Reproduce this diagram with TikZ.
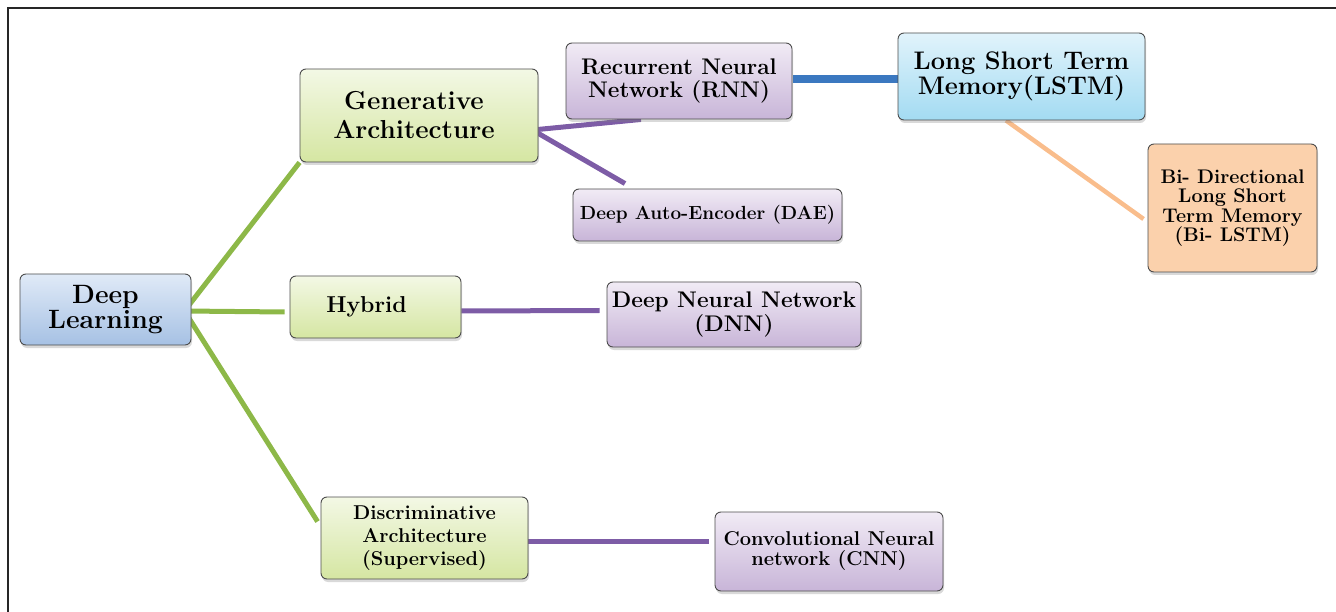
\documentclass[tikz,border=0pt]{standalone}
\usetikzlibrary{shadows,calc,backgrounds}
\definecolor{lgreen}{HTML}{8DB848}
\definecolor{lpurple}{HTML}{7D5CA6}
\definecolor{lblue}{HTML}{3B78C0}
\definecolor{lorange}{HTML}{F9BD8C}
\definecolor{bltop}{HTML}{E0EAF7}
\definecolor{blbot}{HTML}{A6C1E4}
\definecolor{grtop}{HTML}{F3F8E5}
\definecolor{grbot}{HTML}{D5E6A2}
\definecolor{putop}{HTML}{F1EBF5}
\definecolor{pubot}{HTML}{C8B5D8}
\definecolor{cytop}{HTML}{E1F3FB}
\definecolor{cybot}{HTML}{A3DBF2}
\definecolor{peach}{HTML}{FBD1AC}
\begin{document}
\begin{tikzpicture}[x=1pt,y=-1pt,
  box/.style={draw=black!70, line width=0.9pt, rounded corners=6pt, align=center,
    inner sep=0pt, font=\bfseries,
    drop shadow={shadow xshift=1pt,shadow yshift=-3pt,opacity=0.3}},
  bluebox/.style={box, top color=bltop, bottom color=blbot},
  greenbox/.style={box, top color=grtop, bottom color=grbot},
  purplebox/.style={box, top color=putop, bottom color=pubot},
  cyanbox/.style={box, top color=cytop, bottom color=cybot},
  peachbox/.style={box, fill=peach},
  gline/.style={draw=lgreen, line width=5pt},
  pline/.style={draw=lpurple, line width=5pt},
  bline/.style={draw=lblue, line width=8pt},
  oline/.style={draw=lorange, line width=4.5pt},
  fs/.style 2 args={font=\fontsize{#1}{#2}\selectfont\bfseries}
]
\useasboundingbox (0,0) rectangle (1336,612);
\draw[line width=1.6pt, black!85] (1336,8) -- (8,8) -- (8,612);

\node[bluebox, fs={26.5}{22}, minimum width=171pt, minimum height=71pt] (dl) at (105.5,309.5) {Deep\\Learning};
\node[greenbox, fs={26}{29}, minimum width=238pt, minimum height=93pt] (gen) at (419,115.5) {\hspace*{-10pt}Generative\\\hspace*{-10pt}Architecture};
\node[greenbox, fs={23}{24}, minimum width=171pt, minimum height=62pt] (hyb) at (375.5,307) {Hybrid\hspace*{18pt}};
\node[greenbox, fs={20}{23}, minimum width=207pt, minimum height=82pt] (disc) at (424.5,538) {Discriminative\\Architecture\\(Supervised)};
\node[purplebox, fs={22.6}{23}, minimum width=226pt, minimum height=76pt] (rnn) at (679,81) {Recurrent Neural\\Network (RNN)};
\node[purplebox, fs={19}{18}, minimum width=269pt, minimum height=52pt] (dae) at (707.5,215) {Deep Auto-Encoder (DAE)};
\node[cyanbox, fs={25.4}{23}, minimum width=247pt, minimum height=87pt] (lstm) at (1021.5,76.5) {Long Short Term\\Memory(LSTM)};
\node[peachbox, fs={19.7}{19.5}, minimum width=169pt, minimum height=128pt] (bi) at (1232.5,208) {Bi- Directional\\Long Short\\Term Memory\\(Bi- LSTM)};
\node[purplebox, fs={22.6}{24}, minimum width=254pt, minimum height=65pt] (dnn) at (734,314.5) {Deep Neural Network\\(DNN)};
\node[purplebox, fs={20}{20}, minimum width=228pt, minimum height=79pt] (cnn) at (829,551.5) {Convolutional Neural\\network (CNN)};

\coordinate (dlj) at ($(dl.east)+(-7,1.5)$);
\coordinate (gj) at ($(gen.east)+(-6,14.5)$);

\begin{scope}[on background layer]
\draw[gline] (dlj) -- (gen.south west);
\draw[gline] (dlj) -- ($(hyb.west)+(-5,5)$);
\draw[gline] (dlj) -- ($(disc.north west)+(-3,25)$);
\draw[pline] (gj) -- ($(rnn.south)+(-38,0)$);
\draw[pline] (gj) -- ($(dae.north)+(-82.5,-5)$);
\draw[pline] ($(hyb.east)+(0,4)$) -- ($(dnn.west)+(-7,-4)$);
\draw[pline] ($(disc.east)+(-5,3)$) -- ($(cnn.west)+(-6,-10.5)$);
\draw[bline] ($(rnn.east)+(1,-2)$) -- ($(lstm.west)+(0,2.5)$);
\draw[oline] ($(lstm.south)+(-15.5,0)$) -- ($(bi.west)+(-4,11)$);
\end{scope}
\end{tikzpicture}
\end{document}
